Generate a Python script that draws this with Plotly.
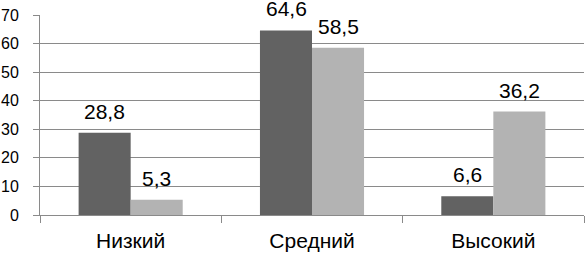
import plotly.graph_objects as go

categories = ["Низкий", "Средний", "Высокий"]
series_a = [28.8, 64.6, 6.6]
series_b = [5.3, 58.5, 36.2]
y_ticks = [0, 10, 20, 30, 40, 50, 60, 70]

dark = "#626262"
light = "#b3b3b3"
grid = "#8a8a8a"

fig = go.Figure()
fig.add_trace(go.Bar(x=categories, y=series_a, marker=dict(color=dark, line=dict(width=0)), name="A"))
fig.add_trace(go.Bar(x=categories, y=series_b, marker=dict(color=light, line=dict(width=0)), name="B"))

annotations = []
for vals, shift in ((series_a, -26), (series_b, 26)):
    for c, v in zip(categories, vals):
        annotations.append(dict(
            x=c, y=v, xref="x", yref="y", xshift=shift, yshift=8,
            text=f"{v:.1f}".replace(".", ","), showarrow=False,
            yanchor="bottom", xanchor="center",
            font=dict(family="Liberation Sans, Arial", size=21, color="black"),
        ))

fig.update_layout(
    width=586, height=255,
    margin=dict(l=40, r=2, t=15, b=40, autoexpand=False),
    paper_bgcolor="white", plot_bgcolor="white",
    barmode="group", bargap=0.426, bargroupgap=0,
    showlegend=False,
    annotations=annotations,
    font=dict(family="Liberation Sans, Arial", color="black"),
)
fig.update_xaxes(
    type="category", tickson="boundaries", ticks="outside", ticklen=7,
    tickcolor=grid, showline=True, linecolor=grid, linewidth=1,
    showgrid=False, tickfont=dict(size=21, color="black"),
    ticklabelstandoff=7, automargin=False,
)
fig.update_yaxes(
    range=[0, 70], tickvals=y_ticks, ticks="outside", ticklen=6,
    tickcolor=grid, showline=True, linecolor=grid, linewidth=1,
    showgrid=True, gridcolor=grid, gridwidth=1, zeroline=False,
    tickfont=dict(size=16, color="black"), ticklabelstandoff=11,
    automargin=False,
)

fig.write_html(
    "out.html",
    config={"displayModeBar": False},
    post_script="document.body.style.margin='0';document.body.style.overflow='hidden';",
)
